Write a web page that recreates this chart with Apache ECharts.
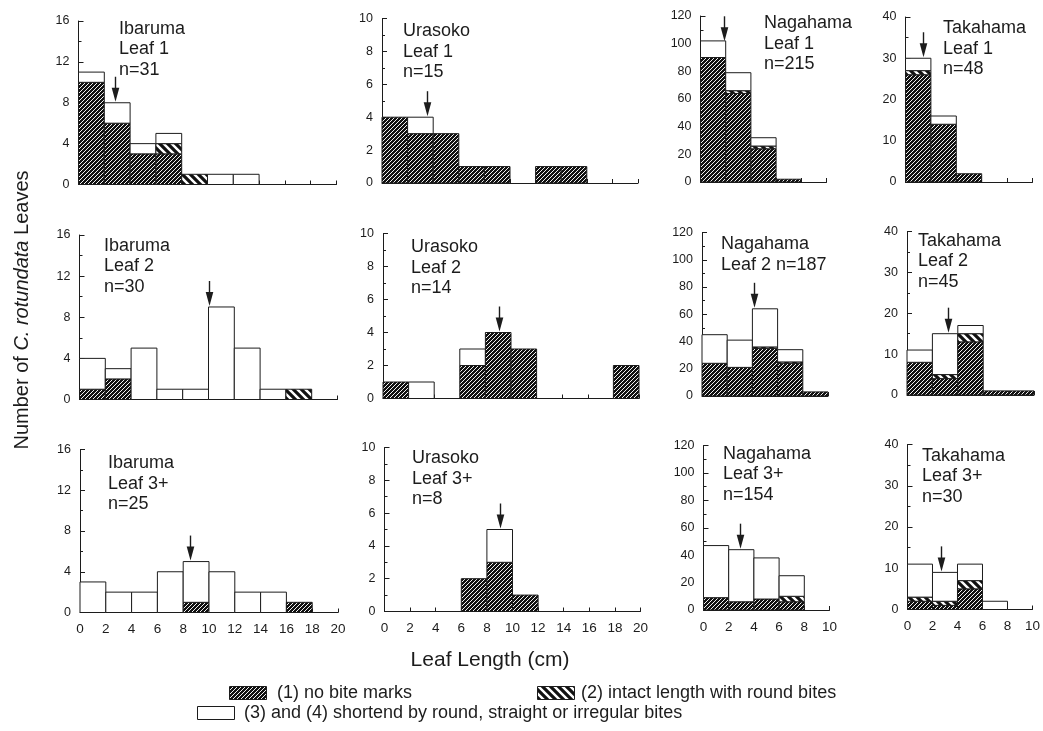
<!DOCTYPE html>
<html><head><meta charset="utf-8">
<script src="https://cdn.jsdelivr.net/npm/echarts@6/dist/echarts.min.js"></script>
<style>html,body{margin:0;padding:0;background:#fff}#chart{width:1043px;height:731px}</style>
</head><body><div id="chart"></div>
<script>
const FONT = '"Liberation Sans", Arial, Helvetica, sans-serif';
const INK = '#1c1c1c';

// ---------- DATA ----------
const binStartsLong = [0, 2, 4, 6, 8, 10, 12, 14, 16, 18];   // Ibaruma, Urasoko (cm)
const binStartsShort = [0, 2, 4, 6, 8];                       // Nagahama, Takahama (cm)
const binWidth = 2;

const sites = ['Ibaruma', 'Urasoko', 'Nagahama', 'Takahama'];
const leafLabels = ['Leaf 1', 'Leaf 2', 'Leaf 3+'];
const sampleSizes = [31, 15, 215, 48, 30, 14, 187, 45, 25, 8, 154, 30];

const yMaxBySite = [16, 10, 120, 40];
const yStepBySite = [4, 2, 20, 10];
const xMaxBySite = [20, 20, 10, 10];
const xTickStep = 2;

// counts per bin: (1) no bite marks, (2) intact length with round bites, (3)+(4) shortened
const ibaruma1NoBite    = [10, 6, 3, 3, 0, 0, 0, 0, 0, 0];
const ibaruma1RoundBite = [0, 0, 0, 1, 1, 0, 0, 0, 0, 0];
const ibaruma1Shortened = [1, 2, 1, 1, 0, 1, 1, 0, 0, 0];
const urasoko1NoBite    = [4, 3, 3, 1, 1, 0, 1, 1, 0, 0];
const urasoko1RoundBite = [0, 0, 0, 0, 0, 0, 0, 0, 0, 0];
const urasoko1Shortened = [0, 1, 0, 0, 0, 0, 0, 0, 0, 0];
const nagahama1NoBite    = [90, 64, 24, 2, 0];
const nagahama1RoundBite = [0, 2, 2, 0, 0];
const nagahama1Shortened = [12, 13, 6, 0, 0];
const takahama1NoBite    = [26, 14, 2, 0, 0];
const takahama1RoundBite = [1, 0, 0, 0, 0];
const takahama1Shortened = [3, 2, 0, 0, 0];

const ibaruma2NoBite    = [1, 2, 0, 0, 0, 0, 0, 0, 0, 0];
const ibaruma2RoundBite = [0, 0, 0, 0, 0, 0, 0, 0, 1, 0];
const ibaruma2Shortened = [3, 1, 5, 1, 1, 9, 5, 1, 0, 0];
const urasoko2NoBite    = [1, 0, 0, 2, 4, 3, 0, 0, 0, 2];
const urasoko2RoundBite = [0, 0, 0, 0, 0, 0, 0, 0, 0, 0];
const urasoko2Shortened = [0, 1, 0, 1, 0, 0, 0, 0, 0, 0];
const nagahama2NoBite    = [24, 21, 35, 24, 3];
const nagahama2RoundBite = [0, 0, 1, 1, 0];
const nagahama2Shortened = [21, 20, 28, 9, 0];
const takahama2NoBite    = [8, 4, 13, 1, 1];
const takahama2RoundBite = [0, 1, 2, 0, 0];
const takahama2Shortened = [3, 10, 2, 0, 0];

const ibaruma3NoBite    = [0, 0, 0, 0, 1, 0, 0, 0, 1, 0];
const ibaruma3RoundBite = [0, 0, 0, 0, 0, 0, 0, 0, 0, 0];
const ibaruma3Shortened = [3, 2, 2, 4, 4, 4, 2, 2, 0, 0];
const urasoko3NoBite    = [0, 0, 0, 2, 3, 1, 0, 0, 0, 0];
const urasoko3RoundBite = [0, 0, 0, 0, 0, 0, 0, 0, 0, 0];
const urasoko3Shortened = [0, 0, 0, 0, 2, 0, 0, 0, 0, 0];
const nagahama3NoBite    = [9, 6, 8, 6, 0];
const nagahama3RoundBite = [0, 0, 0, 4, 0];
const nagahama3Shortened = [38, 38, 30, 15, 0];
const takahama3NoBite    = [2, 1, 5, 0, 0];
const takahama3RoundBite = [1, 1, 2, 0, 0];
const takahama3Shortened = [8, 7, 4, 2, 0];

// median arrows: x position (cm) and count level of arrow tip
const arrowX   = [2.8, 3.5, 1.9, 1.4, 10.05, 9.1, 4.15, 3.2, 8.5, 9.0, 2.9, 2.65];
const arrowTip = [8, 4, 101, 30, 9, 4, 64, 15, 5, 5, 44, 9];

const legendNames = ['(1) no bite marks', '(2) intact length with round bites',
  '(3) and (4) shortend by round, straight or irregular bites'];
const xTitle = 'Leaf Length (cm)';

const panelSeries = [
  [ibaruma1NoBite, ibaruma1RoundBite, ibaruma1Shortened],
  [urasoko1NoBite, urasoko1RoundBite, urasoko1Shortened],
  [nagahama1NoBite, nagahama1RoundBite, nagahama1Shortened],
  [takahama1NoBite, takahama1RoundBite, takahama1Shortened],
  [ibaruma2NoBite, ibaruma2RoundBite, ibaruma2Shortened],
  [urasoko2NoBite, urasoko2RoundBite, urasoko2Shortened],
  [nagahama2NoBite, nagahama2RoundBite, nagahama2Shortened],
  [takahama2NoBite, takahama2RoundBite, takahama2Shortened],
  [ibaruma3NoBite, ibaruma3RoundBite, ibaruma3Shortened],
  [urasoko3NoBite, urasoko3RoundBite, urasoko3Shortened],
  [nagahama3NoBite, nagahama3RoundBite, nagahama3Shortened],
  [takahama3NoBite, takahama3RoundBite, takahama3Shortened]
];

// ---------- LAYOUT ----------
const gridLeft = [78.5, 382, 700.5, 905.5, 79.5, 383, 702, 907, 80, 384.5, 703.5, 907.5];
const gridTop  = [21, 18.5, 16, 17, 235, 233.5, 232.5, 231.5, 449.5, 447.5, 445.5, 444.5];
const gridBase = [184.5, 183, 182, 182, 399.5, 398.5, 396, 395, 612.5, 611.5, 610, 609.5];
const gridWidthBySite = [258, 256, 126, 127];
const labelX = [119, 403, 764, 943, 104, 411, 721, 918, 108, 412, 723, 922];
const labelY = [29, 31.5, 23.5, 28.3, 246, 247.3, 244.3, 241, 463.3, 458.3, 454, 456];
const LINE_H = 20.5;

// ---------- PATTERNS ----------
function hatch(size, lineW, dir, bg, fg) {
  const c = document.createElement('canvas');
  c.width = c.height = size;
  const g = c.getContext('2d');
  g.fillStyle = bg; g.fillRect(0, 0, size, size);
  g.strokeStyle = fg; g.lineWidth = lineW; g.beginPath();
  for (let k = -1; k <= 2; k++) {
    if (dir === '/') { g.moveTo(-size, k * size + size); g.lineTo(k * size + size, -size); }
    else { g.moveTo(-size, -size + k * size); g.lineTo(2 * size, 2 * size + k * size); }
  }
  g.stroke();
  return c;
}
const fills = [
  { image: hatch(4, 0.95, '/', '#111111', '#ffffff'), repeat: 'repeat' },
  { image: hatch(8, 3.2, '\\', '#ffffff', '#111111'), repeat: 'repeat' },
  '#ffffff'
];

// ---------- BUILD ----------
const chart = echarts.init(document.getElementById('chart'), null, { renderer: 'canvas' });
const grids = [], xAxes = [], yAxes = [], series = [], graphics = [];

for (let i = 0; i < 12; i++) {
  const row = Math.floor(i / 4), col = i % 4;
  grids.push({ left: gridLeft[i], top: gridTop[i], width: gridWidthBySite[col], height: gridBase[i] - gridTop[i] });
  xAxes.push({
    gridIndex: i, type: 'value', min: 0, max: xMaxBySite[col], interval: xTickStep,
    axisLine: { show: true, onZero: false, lineStyle: { color: INK, width: 1 } },
    axisTick: { show: true, inside: true, length: 4, lineStyle: { color: INK } },
    axisLabel: { show: row === 2, fontSize: 13.5, color: INK, margin: 10, fontFamily: FONT },
    splitLine: { show: false }
  });
  yAxes.push({
    gridIndex: i, type: 'value', min: 0, max: yMaxBySite[col], interval: yStepBySite[col],
    axisLine: { show: true, onZero: false, lineStyle: { color: INK, width: 1 } },
    axisTick: { show: true, inside: true, length: 5, lineStyle: { color: INK } },
    minorTick: { show: true, splitNumber: 2, length: 3, lineStyle: { color: INK } },
    axisLabel: { fontSize: 12.5, color: INK, margin: 9, fontFamily: FONT },
    splitLine: { show: false }, minorSplitLine: { show: false }
  });

  const starts = col < 2 ? binStartsLong : binStartsShort;
  const segs = [];
  starts.forEach((s, b) => {
    let base = 0;
    for (let k = 0; k < 3; k++) {
      const v = panelSeries[i][k][b];
      if (v > 0) { segs.push([s, s + binWidth, base, base + v, k]); base += v; }
    }
  });
  series.push({
    type: 'custom', xAxisIndex: i, yAxisIndex: i, silent: true,
    encode: { x: [0, 1], y: [2, 3] },
    data: segs,
    renderItem: function (params, api) {
      const p0 = api.coord([api.value(0), api.value(2)]);
      const p1 = api.coord([api.value(1), api.value(3)]);
      return {
        type: 'rect',
        shape: { x: p0[0], y: p1[1], width: p1[0] - p0[0], height: p0[1] - p1[1] },
        style: { fill: fills[api.value(4)], stroke: INK, lineWidth: 1 }
      };
    }
  });
  series.push({
    type: 'custom', xAxisIndex: i, yAxisIndex: i, silent: true,
    encode: { x: 0, y: 1 },
    data: [[arrowX[i], arrowTip[i]]],
    z: 5,
    renderItem: function (params, api) {
      const p = api.coord([api.value(0), api.value(1)]);
      const x = Math.round(p[0]) + 0.5, y = p[1] - 1;
      return {
        type: 'group', children: [
          { type: 'line', shape: { x1: x, y1: y - 25, x2: x, y2: y - 12 }, style: { stroke: INK, lineWidth: 1.4 } },
          { type: 'polygon', shape: { points: [[x - 3.8, y - 14], [x + 3.8, y - 14], [x, y]] }, style: { fill: INK } }
        ]
      };
    }
  });

  const n = sampleSizes[i];
  const text = (i === 6)
    ? sites[col] + '\n' + leafLabels[row] + ' n=' + n
    : sites[col] + '\n' + leafLabels[row] + '\nn=' + n;
  graphics.push({
    type: 'text', x: labelX[i], y: labelY[i] - LINE_H / 2, silent: true,
    style: { text: text, fontSize: 18, fontFamily: FONT, fill: INK, lineHeight: LINE_H, align: 'left', verticalAlign: 'top' }
  });
}

// axis titles
graphics.push({
  type: 'text', x: 22, y: 310, rotation: Math.PI / 2, silent: true,
  style: {
    text: 'Number of {i|C. rotundata} Leaves', fontSize: 20, fontFamily: FONT, fill: INK,
    align: 'center', verticalAlign: 'middle',
    rich: { i: { fontStyle: 'italic', fontSize: 20, fontFamily: FONT, fill: INK } }
  }
});
graphics.push({
  type: 'text', x: 490, y: 660, silent: true,
  style: { text: xTitle, fontSize: 21, fontFamily: FONT, fill: INK, align: 'center', verticalAlign: 'middle' }
});

// legend
const legendBoxes = [[229, 686], [537, 686], [197, 706]];
const legendTextX = [277, 581, 244];
legendBoxes.forEach((b, k) => {
  graphics.push({ type: 'rect', shape: { x: b[0] + 0.5, y: b[1] + 0.5, width: 37, height: 13 },
    style: { fill: fills[k], stroke: INK, lineWidth: 1 }, silent: true });
  graphics.push({ type: 'text', x: legendTextX[k], y: b[1] + 7, silent: true,
    style: { text: legendNames[k], fontSize: 18, fontFamily: FONT, fill: INK, align: 'left', verticalAlign: 'middle' } });
});

chart.setOption({
  animation: false,
  backgroundColor: '#ffffff',
  grid: grids, xAxis: xAxes, yAxis: yAxes, series: series, graphic: graphics
});
</script></body></html>
